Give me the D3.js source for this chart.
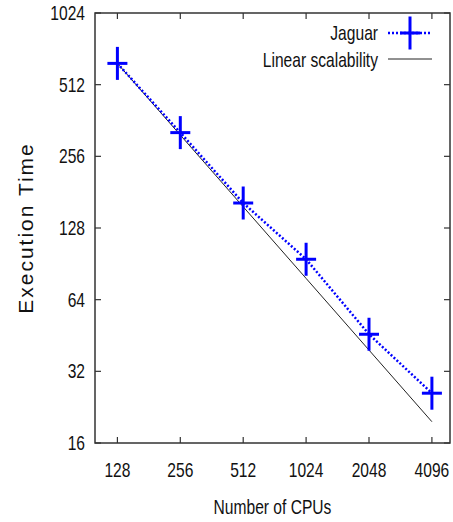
<!DOCTYPE html>
<meta charset="utf-8">
<head>
	<title>Jaguar scalability</title>
</head>

<style>
body { margin: 0; background: #fff; }
svg { display: block; }
text { font-family: "Liberation Sans", Arial, sans-serif; font-size: 20px; fill: #111; }
.frame { fill: none; stroke: #333; stroke-width: 1.5; }
</style>

<body>
<svg width="453" height="522"></svg>

<script src="https://cdnjs.cloudflare.com/ajax/libs/d3/7.8.5/d3.min.js"></script>
<script>

// data
var cpus = [128, 256, 512, 1024, 2048, 4096];
var jaguar = [629, 322, 163, 94.6, 45.8, 25.9];
var linear = [629, 314.5, 157.2, 78.6, 39.3, 19.66];
var yTicks = [16, 32, 64, 128, 256, 512, 1024];
var xTicks = [128, 256, 512, 1024, 2048, 4096];

var svg = d3.select('svg');
var pLeft = 95, pRight = 450, pTop = 13, pBottom = 443;

var x = d3.scaleLog().base(2).domain([100, 5000]).range([pLeft, pRight]);
var y = d3.scaleLog().base(2).domain([16, 1024]).range([pBottom, pTop]);

// narrow text: regular font squeezed horizontally
function label(px, py, str, anchor){
	return svg.append('g')
		.attr('transform', 'translate(' + px + ',' + py + ') scale(0.78,1)')
		.append('text')
		.attr('text-anchor', anchor)
		.text(str);
}

// frame
svg.append('rect').attr('class', 'frame')
	.attr('x', pLeft).attr('y', pTop)
	.attr('width', pRight - pLeft).attr('height', pBottom - pTop);

// ticks (mirrored on all sides)
var tk = 6;
var g = svg.append('g').attr('stroke', '#333').attr('stroke-width', 1.2);
xTicks.forEach(function(d){
	g.append('line').attr('x1', x(d)).attr('x2', x(d)).attr('y1', pBottom).attr('y2', pBottom - tk);
	g.append('line').attr('x1', x(d)).attr('x2', x(d)).attr('y1', pTop).attr('y2', pTop + tk);
	label(x(d), 477, d, 'middle');
});
yTicks.forEach(function(d){
	g.append('line').attr('x1', pLeft).attr('x2', pLeft + tk).attr('y1', y(d)).attr('y2', y(d));
	g.append('line').attr('x1', pRight).attr('x2', pRight - tk).attr('y1', y(d)).attr('y2', y(d));
	label(85, y(d) + 7, d, 'end');
});

// axis titles
label((pLeft + pRight) / 2, 514, 'Number of CPUs', 'middle');
svg.append('text')
	.attr('transform', 'translate(33,228) rotate(-90)')
	.attr('text-anchor', 'middle')
	.style('font-size', '21px')
	.style('letter-spacing', '2px')
	.text('Execution Time');

// linear scalability
var lineGen = d3.line()
	.x(function(d, i){ return x(cpus[i]); })
	.y(function(d){ return y(d); });

svg.append('path').attr('d', lineGen(linear))
	.attr('fill', 'none').attr('stroke', '#222').attr('stroke-width', 1);

// jaguar
svg.append('path').attr('d', lineGen(jaguar))
	.attr('fill', 'none').attr('stroke', '#0000ff').attr('stroke-width', 2.5)
	.attr('stroke-dasharray', '2,2');

function plus(sel, cx, cy){
	sel.append('line').attr('x1', cx - 10).attr('x2', cx + 10).attr('y1', cy).attr('y2', cy)
		.attr('stroke', '#0000ff').attr('stroke-width', 3);
	sel.append('line').attr('x1', cx).attr('x2', cx).attr('y1', cy - 16.5).attr('y2', cy + 16.5)
		.attr('stroke', '#0000ff').attr('stroke-width', 3);
}
var marks = svg.append('g');
jaguar.forEach(function(d, i){ plus(marks, x(cpus[i]), y(d)); });

// legend
label(378, 40, 'Jaguar', 'end');
svg.append('line').attr('x1', 388).attr('x2', 432).attr('y1', 33).attr('y2', 33)
	.attr('stroke', '#0000ff').attr('stroke-width', 2.5).attr('stroke-dasharray', '2,2');
plus(svg, 410, 33);
label(378, 67, 'Linear scalability', 'end');
svg.append('line').attr('x1', 388).attr('x2', 432).attr('y1', 59).attr('y2', 59)
	.attr('stroke', '#222').attr('stroke-width', 1);

</script>
</body>
</html>
